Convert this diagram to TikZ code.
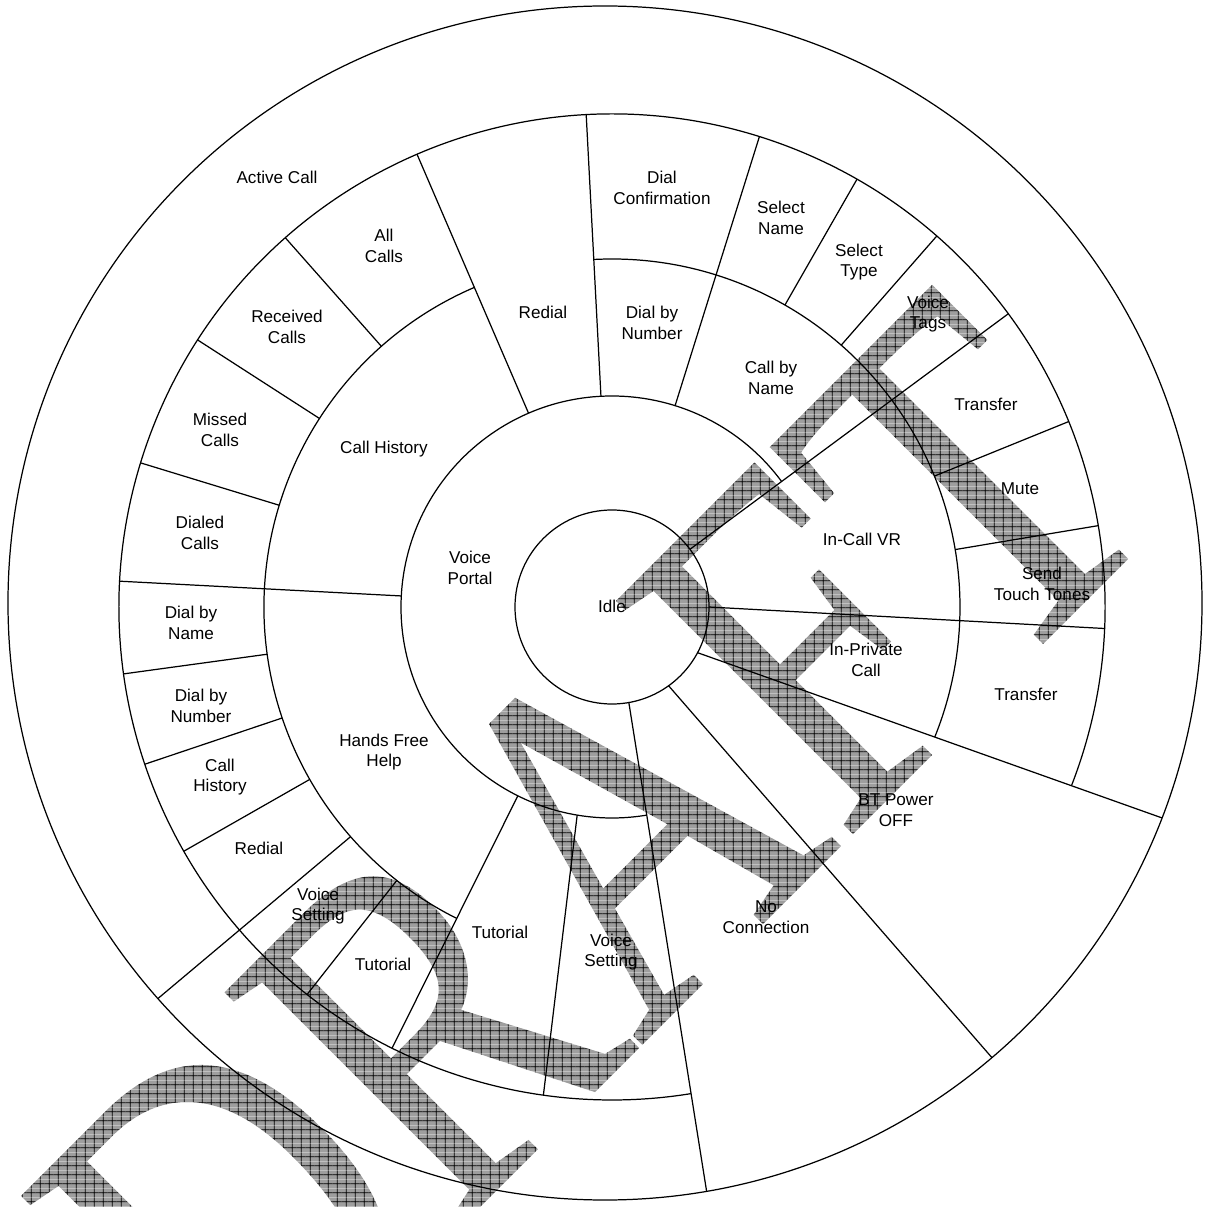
\documentclass[tikz,border=0pt]{standalone}
\usepackage{fontspec}
\setmainfont{Liberation Sans}
\newfontfamily\wmfont{Liberation Serif}
\usepackage{graphicx}
\usepackage{tikz}
\usetikzlibrary{calc,patterns}

\pgfdeclarepatterninherentlycolored{wmgrid}
  {\pgfpointorigin}{\pgfpoint{5pt}{5pt}}
  {\pgfpoint{5pt}{5pt}}
  {
    \pgfsetfillcolor{black!38}
    \pgfpathrectangle{\pgfpointorigin}{\pgfpoint{5pt}{5pt}}
    \pgfusepath{fill}
    \pgfsetlinewidth{0.5pt}
    \pgfsetstrokecolor{black}
    \pgfpathmoveto{\pgfpoint{0pt}{2.5pt}}
    \pgfpathlineto{\pgfpoint{5pt}{2.5pt}}
    \pgfpathmoveto{\pgfpoint{2.5pt}{0pt}}
    \pgfpathlineto{\pgfpoint{2.5pt}{5pt}}
    \pgfusepath{stroke}
  }

\begin{document}
\begin{tikzpicture}[
    x=0.02cm, y=0.02cm,
    edge/.style={draw=black, line width=0.7pt},
    lbl/.style={align=center, font=\fontsize{9.75}{11.7}\selectfont, inner sep=0pt},
    wmark/.style={font=\wmfont\fontsize{289}{289}\selectfont, inner sep=0pt, anchor=base, rotate=45}
]
    \useasboundingbox (-612,-599) rectangle (597,607);
    \coordinate (c) at (0,0);
    \coordinate (o) at (-7,4);

    % watermark
    \node [wmark] (draft) at (98,-370) {\pgfsetfillpattern{wmgrid}{black}\scalebox{0.785}[1]{DRAFT}};

    % rings
    \draw [edge] (o) circle (597);
    \draw [edge] (c) circle (97);
    \draw [edge] (36.5:211) arc (36.5:279.5:211);
    \draw [edge] (-21.95:348) arc (-21.95:93:348);
    \draw [edge] (113.3:348) arc (113.3:243.5:348);
    \draw [edge] (-21.25:493) arc (-21.25:279.2:493);

    % long dividers
    \draw [edge] (36.5:97) -- (36.5:493);
    \draw [edge] (0:97) -- (-2.5:493);
    \draw [edge] (-28.1:97) -- ($(o)+(-21.1:597)$);
    \draw [edge] (-54.3:97) -- ($(o)+(-49.6:597)$);
    \draw [edge] (280:97) -- ($(o)+(-80.2:597)$);
    \draw [edge] (72.6:211) -- (72.6:493);
    \draw [edge] (93:211) -- (93:493);
    \draw [edge] (113.3:211) -- (113.3:493);
    \draw [edge] (177:211) -- (177:493);
    \draw [edge] (243.5:211) -- (243.5:493);
    \draw [edge] (260.5:211) -- (262:493);
    \draw [edge] (221.3:348) -- ($(o)+(221.5:597)$);

    % short dividers
    \draw [edge] (9.5:348) -- (9.5:493);
    \draw [edge] (22.1:348) -- (22.1:493);
    \draw [edge] (48.8:348) -- (48.8:493);
    \draw [edge] (60.2:348) -- (60.2:493);
    \draw [edge] (131.5:348) -- (131.5:493);
    \draw [edge] (147.2:348) -- (147.2:493);
    \draw [edge] (163:348) -- (163:493);
    \draw [edge] (187.8:348) -- (187.8:493);
    \draw [edge] (198.6:348) -- (198.6:493);
    \draw [edge] (209.7:348) -- (209.7:493);
    \draw [edge] (231.8:348) -- (231.8:493);

    % labels
    \node [lbl] (idle) at (0,1) {Idle};
    \node [lbl] (portal) at (-142,39) {Voice\\Portal};
    \node [lbl] (activecall) at (-335,430) {Active Call};
    \node [lbl] (allcalls) at (-228,361) {All\\Calls};
    \node [lbl] (received) at (-325,280) {Received\\Calls};
    \node [lbl] (missed) at (-392,177) {Missed\\Calls};
    \node [lbl] (dialed) at (-412,74) {Dialed\\Calls};
    \node [lbl] (history) at (-228,158) {Call History};
    \node [lbl] (redial) at (-69,295) {Redial};
    \node [lbl] (dialconf) at (50,419) {Dial\\Confirmation};
    \node [lbl] (dialnum) at (40,284) {Dial by\\Number};
    \node [lbl] (selname) at (169,389) {Select\\Name};
    \node [lbl] (seltype) at (247,345) {Select\\Type};
    \node [lbl] (voicetags) at (316,293) {Voice\\Tags};
    \node [lbl] (callname) at (159,229) {Call by\\Name};
    \node [lbl] (transfer) at (374,203) {Transfer};
    \node [lbl] (mute) at (408,118) {Mute};
    \node [lbl] (touchtones) at (430,23) {Send\\Touch Tones};
    \node [lbl] (incallvr) at (250,68) {In-Call VR};
    \node [lbl] (private) at (254,-53) {In-Private\\Call};
    \node [lbl] (privtransfer) at (414,-87) {Transfer};
    \node [lbl] (btoff) at (284,-203) {BT Power\\OFF};
    \node [lbl] (noconn) at (154,-310) {No\\Connection};
    \node [lbl] (setting) at (-1,-345) {Voice\\Setting};
    \node [lbl] (tutorial) at (-112,-325) {Tutorial};
    \node [lbl] (hftutorial) at (-229,-357) {Tutorial};
    \node [lbl] (hfsetting) at (-294,-299) {Voice\\Setting};
    \node [lbl] (hfredial) at (-353,-241) {Redial};
    \node [lbl] (hfhistory) at (-392,-170) {Call\\History};
    \node [lbl] (hfdialnum) at (-411,-99) {Dial by\\Number};
    \node [lbl] (hfdialname) at (-421,-16) {Dial by\\Name};
    \node [lbl] (handsfree) at (-228,-145) {Hands Free\\Help};
\end{tikzpicture}
\end{document}
